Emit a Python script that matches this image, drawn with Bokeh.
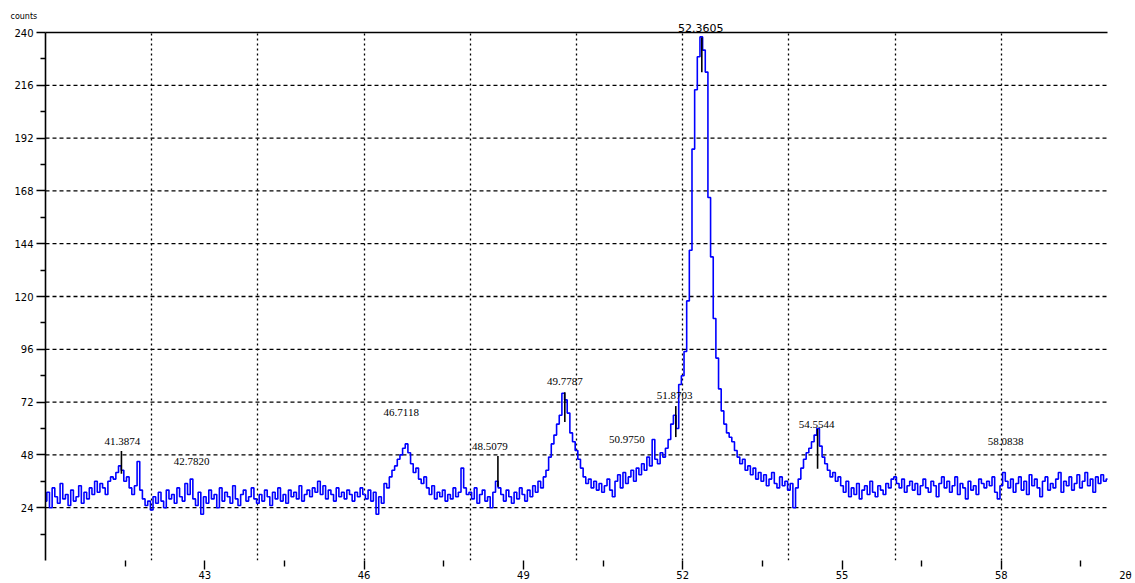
from bokeh.plotting import figure
from bokeh.models import FixedTicker, LinearAxis, ColumnDataSource, LabelSet, Range1d, Grid
from bokeh.embed import file_html
from bokeh.resources import INLINE

# ---------------- data ----------------
scan_start = 40.0
scan_step = 0.05

intensity = [
    # 40.00 - 40.95
    27, 31, 24, 33, 29, 26, 35, 28, 30, 25, 32, 27, 29, 34, 26, 31, 28, 33, 30, 36,
    # 41.00 - 41.95
    31, 35, 33, 30, 36, 38, 37, 40, 43, 41, 36, 38, 33, 30, 34, 45, 32, 28, 25, 27,
    # 42.00 - 42.95
    23, 29, 26, 31, 27, 24, 32, 28, 30, 26, 33, 29, 27, 35, 30, 37, 28, 25, 31, 21,
    # 43.00 - 43.95
    29, 26, 32, 28, 30, 24, 33, 27, 31, 29, 26, 34, 28, 25, 30, 32, 27, 29, 33, 28,
    # 44.00 - 44.95
    26, 30, 27, 32, 29, 25, 31, 28, 33, 27, 30, 26, 32, 29, 31, 28, 34, 27, 30, 32,
    # 45.00 - 45.95
    29, 33, 31, 36, 30, 34, 28, 32, 30, 27, 33, 29, 31, 28, 32, 30, 27, 31, 29, 33,
    # 46.00 - 46.95
    30, 28, 32, 27, 31, 21, 29, 26, 35, 33, 38, 41, 43, 46, 48, 51, 53, 49, 44, 40,
    # 47.00 - 47.95
    42, 37, 35, 38, 33, 30, 34, 28, 31, 29, 32, 27, 30, 28, 33, 29, 31, 42, 33, 30,
    # 48.00 - 48.95
    31, 28, 33, 26, 30, 32, 27, 29, 24, 31, 36, 33, 30, 27, 32, 29, 26, 31, 28, 33,
    # 49.00 - 49.95
    30, 27, 32, 29, 34, 31, 36, 33, 38, 41, 47, 53, 57, 62, 66, 76, 73, 67, 58, 54,
    # 50.00 - 50.95
    50, 46, 42, 38, 35, 37, 33, 36, 32, 35, 31, 34, 37, 32, 29, 36, 39, 33, 40, 35,
    # 51.00 - 51.95
    38, 41, 36, 42, 39, 44, 41, 47, 43, 55, 46, 44, 49, 47, 51, 55, 62, 66, 60, 80,
    # 52.00 - 52.95
    84, 95, 118, 141, 187, 214, 229, 238, 232, 222, 165, 138, 110, 92, 78, 68, 62, 58, 56, 54,
    # 53.00 - 53.95
    50, 47, 44, 46, 41, 43, 39, 42, 37, 40, 36, 39, 34, 37, 40, 35, 33, 38, 34, 36,
    # 54.00 - 54.95
    32, 35, 24, 33, 37, 42, 46, 49, 51, 54, 57, 60, 52, 47, 44, 41, 38, 40, 36, 38,
    # 55.00 - 55.95
    34, 31, 36, 29, 33, 30, 35, 28, 32, 34, 30, 36, 31, 29, 34, 32, 30, 35, 33, 37,
    # 56.00 - 56.95
    38, 35, 33, 37, 31, 34, 36, 32, 35, 30, 34, 37, 33, 31, 36, 34, 29, 35, 38, 33,
    # 57.00 - 57.95
    36, 31, 34, 38, 30, 35, 33, 28, 36, 32, 34, 30, 37, 35, 33, 36, 34, 38, 31, 28,
    # 58.00 - 58.95
    34, 40, 36, 33, 37, 31, 35, 38, 32, 36, 30, 39, 34, 37, 33, 29, 36, 38, 32, 35,
    # 59.00 - 60.00
    33, 37, 40, 31, 36, 34, 38, 32, 35, 39, 33, 36, 40, 34, 37, 31, 38, 35, 39, 36, 37,
]
two_theta = [round(scan_start + i * scan_step, 2) for i in range(len(intensity))]

peak_labels = ["41.3874", "42.7820", "46.7118", "48.5079", "49.7787",
               "50.9750", "51.8703", "54.5544", "58.0838"]
peak_label_x = [41.45, 42.75, 46.70, 48.37, 49.78, 50.95, 51.85, 54.52, 58.08]
peak_label_y = [53.9, 44.8, 67.5, 51.6, 81.5, 55.2, 75.2, 62.0, 53.9]

main_peak_x = 52.34
main_peak_label = "52.3605"

marker_x = [41.43, 48.52, 49.78, 51.87, 52.36, 54.54]
marker_top = [49.8, 47.5, 76.5, 70.2, 237.7, 59.8]
marker_bottom = [39.4, 33.5, 62.9, 56.1, 221.9, 41.7]

x_min, x_max = 40, 60
y_min, y_max = 0, 240
x_ticks = [43, 46, 49, 52, 55, 58]
x_minor_ticks = [41.5, 44.5, 47.5, 50.5, 53.5, 56.5, 59.5]
x_grid = [42, 44, 46, 48, 50, 52, 54, 56, 58]
y_ticks = [24, 48, 72, 96, 120, 144, 168, 192, 216, 240]
y_minor_ticks = [12, 36, 60, 84, 108, 132, 156, 180, 204, 228]
y_grid = [24, 48, 72, 96, 120, 144, 168, 192, 216]

# ---------------- figure ----------------
FONT = "DejaVu Sans"
# frame runs past 60 so that the "2θ" axis title can sit at the bottom right
x_view_end = x_max + 18 / 53.1

p = figure(width=1135, height=583, output_backend="svg", toolbar_location=None,
           x_range=Range1d(x_min, x_view_end), y_range=Range1d(y_min, y_max),
           min_border_left=45, min_border_right=10, min_border_top=32, min_border_bottom=21,
           x_axis_type=None, y_axis_type=None)
p.outline_line_color = None
p.background_fill_color = "white"
p.border_fill_color = "white"

# grid
p.add_layout(Grid(dimension=0, ticker=FixedTicker(ticks=x_grid), grid_line_color="black",
                  grid_line_dash="2 3", grid_line_width=1.3))
p.segment(x0=[x_min] * len(y_grid), y0=y_grid, x1=[x_max] * len(y_grid), y1=y_grid,
          line_color="black", line_dash="4 3", line_width=1.3)

# data line
p.step(two_theta, intensity, mode="center", line_color="#0000ff", line_width=1.6)

# peak markers
p.segment(x0=marker_x, y0=marker_top, x1=marker_x, y1=marker_bottom,
          line_color="black", line_width=1.6)

# axes
yax = LinearAxis(ticker=FixedTicker(ticks=y_ticks, minor_ticks=y_minor_ticks))
yax.axis_line_color = "black"
yax.axis_line_width = 1.6
yax.major_tick_in = 0
yax.major_tick_out = 9
yax.minor_tick_in = 0
yax.minor_tick_out = 5
yax.major_tick_line_width = 1.4
yax.minor_tick_line_width = 1.4
yax.major_label_standoff = 3
yax.major_label_text_font = FONT
yax.major_label_text_font_size = "10px"
yax.major_label_text_color = "black"
p.add_layout(yax, "left")

xax = LinearAxis(ticker=FixedTicker(ticks=x_ticks, minor_ticks=x_minor_ticks))
xax.axis_line_color = None
xax.major_tick_in = 0
xax.major_tick_out = 9
xax.minor_tick_in = 0
xax.minor_tick_out = 6
xax.major_tick_line_width = 1.4
xax.minor_tick_line_width = 1.4
xax.major_label_standoff = 1
xax.major_label_text_font = FONT
xax.major_label_text_font_size = "10px"
xax.major_label_text_color = "black"
xax.axis_label = "2θ"
xax.axis_label_align = "end"
xax.axis_label_standoff = -12
xax.axis_label_text_font = FONT
xax.axis_label_text_font_size = "10px"
xax.axis_label_text_font_style = "normal"
xax.axis_label_text_color = "black"
p.add_layout(xax, "below")

top = LinearAxis(ticker=FixedTicker(ticks=[main_peak_x]), bounds=(x_min, x_max))
top.axis_line_color = "black"
top.axis_line_width = 1.6
top.major_tick_line_color = None
top.minor_tick_line_color = None
top.major_tick_out = 0
top.minor_tick_out = 0
top.major_label_standoff = 1
top.major_label_overrides = {main_peak_x: main_peak_label}
top.major_label_text_font = FONT
top.major_label_text_font_size = "11px"
top.major_label_text_color = "black"
p.add_layout(top, "above")

# y-axis title at top-left
p.title.text = "counts"
p.title.align = "left"
p.title.offset = -35
p.title.standoff = 0
p.title.text_font = FONT
p.title.text_font_size = "8px"
p.title.text_font_style = "normal"
p.title.text_color = "black"

# peak labels
src = ColumnDataSource(dict(x=peak_label_x, y=peak_label_y, t=peak_labels))
p.add_layout(LabelSet(x="x", y="y", text="t", source=src, text_align="center",
                      text_baseline="middle", text_font=FONT,
                      text_font_size="11px", text_color="black"))

open("out.html", "w").write(file_html(p, INLINE))
